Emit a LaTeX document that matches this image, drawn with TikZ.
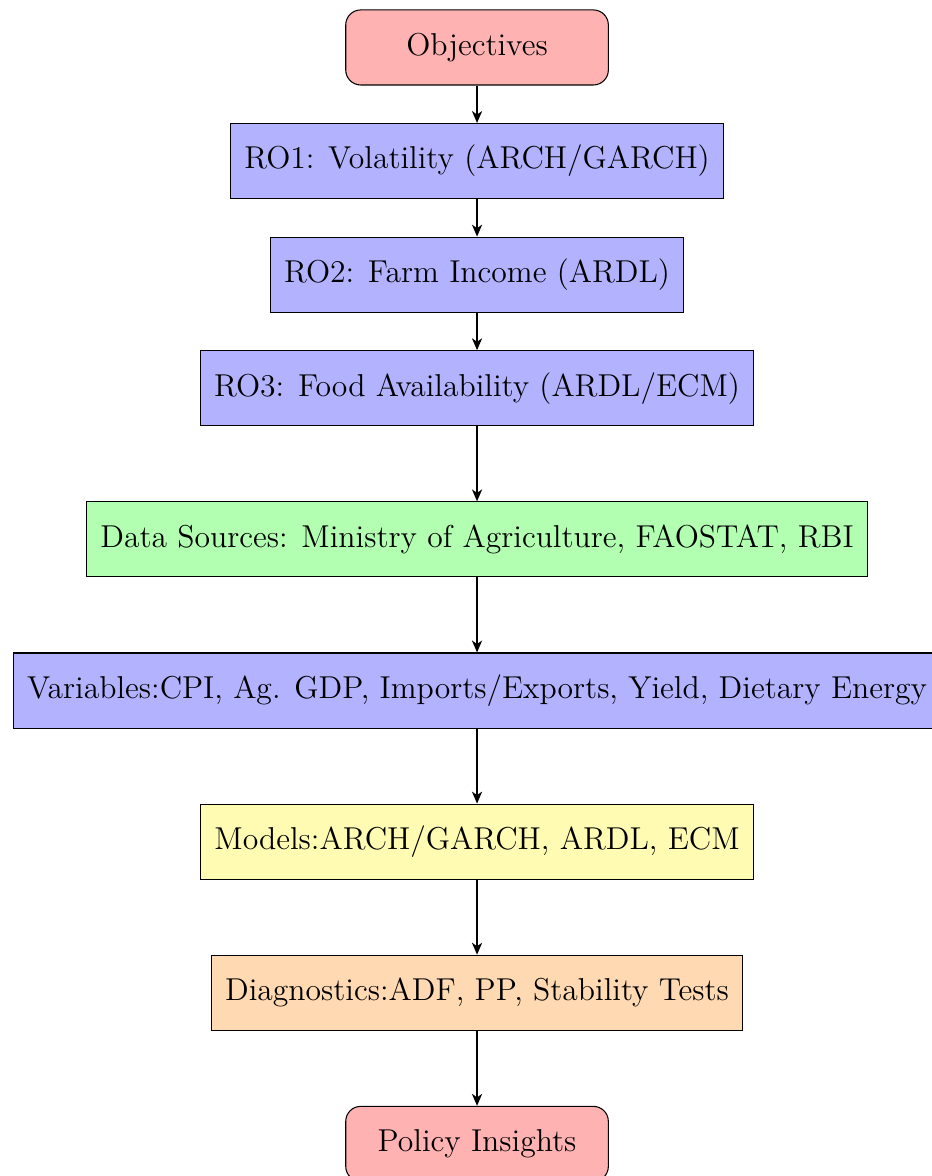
\documentclass[tikz,border=0pt]{standalone}
\usetikzlibrary{positioning,arrows.meta}
\begin{document}
\begin{tikzpicture}[
  font=\large,
  node distance=0.5cm,
  base/.style={draw, minimum height=1cm, inner xsep=5.2pt, align=center},
  terminal/.style={base, rounded corners=2mm, fill=red!30, minimum width=3.5cm},
  robox/.style={base, fill=blue!30},
  databox/.style={base, fill=green!30},
  modelbox/.style={base, fill=yellow!30},
  diagbox/.style={base, fill=orange!30},
  arr/.style={-{Stealth[length=4.5pt,width=3.8pt,inset=1.3pt]}, thick}
]
\useasboundingbox (-180.9pt,18.0pt) rectangle (172.2pt,-427.95pt);
\node[terminal] (obj) at (0,0) {Objectives};
\node[robox, below=of obj] (ro1) {RO1: Volatility (ARCH/GARCH)};
\node[robox, below=of ro1] (ro2) {RO2: Farm Income (ARDL)};
\node[robox, below=of ro2] (ro3) {RO3: Food Availability (ARDL/ECM)};
\node[databox, below=1cm of ro3] (data) {Data Sources: Ministry of Agriculture, FAOSTAT, RBI};
\node[robox, below=1cm of data] (vars) {Variables:CPI, Ag. GDP, Imports/Exports, Yield, Dietary Energy};
\node[modelbox, below=1cm of vars] (models) {Models:ARCH/GARCH, ARDL, ECM};
\node[diagbox, below=1cm of models] (diag) {Diagnostics:ADF, PP, Stability Tests};
\node[terminal, below=1cm of diag] (policy) {Policy Insights};
\draw[arr] (obj) -- (ro1);
\draw[arr] (ro1) -- (ro2);
\draw[arr] (ro2) -- (ro3);
\draw[arr] (ro3) -- (data);
\draw[arr] (data) -- (vars);
\draw[arr] (vars) -- (models);
\draw[arr] (models) -- (diag);
\draw[arr] (diag) -- (policy);
\end{tikzpicture}
\end{document}
